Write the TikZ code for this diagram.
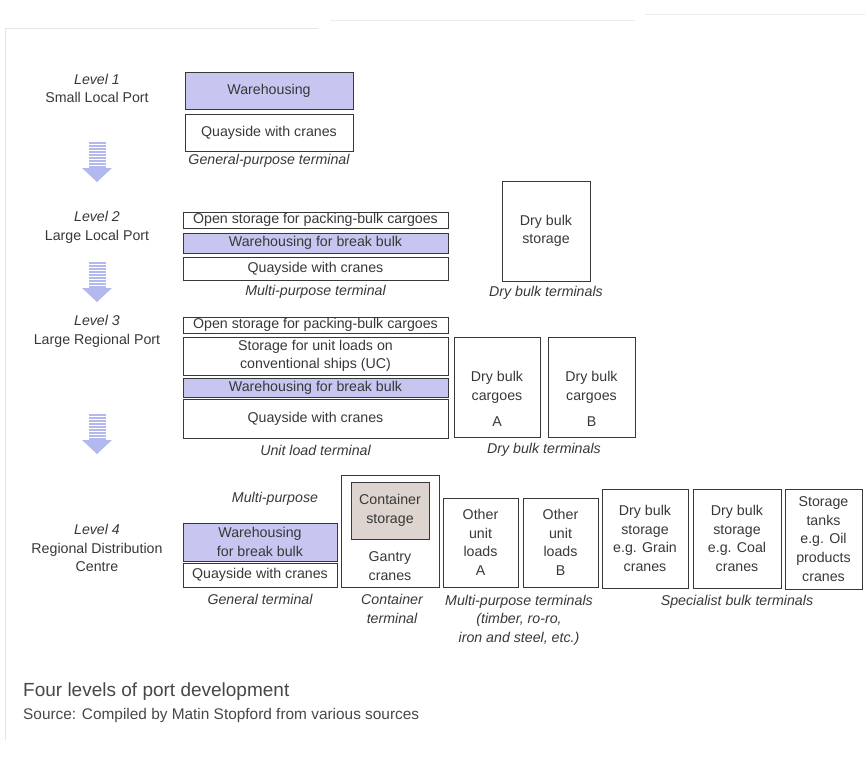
\documentclass[tikz,border=0pt]{standalone}
\usepackage{fontspec}
\setmainfont{Liberation Sans}

\definecolor{wareblue}{HTML}{C6C6F0}
\definecolor{contgray}{HTML}{DDD3CF}
\definecolor{inkgray}{HTML}{383838}
\definecolor{arrowblue}{HTML}{B3B8EE}

\newcommand\boxfont{\fontsize{14.2}{18.6}\selectfont}

\tikzset{
  box/.style={draw=inkgray, line width=1pt, inner sep=0pt, text=inkgray, font=\boxfont, align=center},
  warebox/.style={box, fill=wareblue},
  lbl/.style={text=inkgray, font=\boxfont, align=center, inner sep=0pt},
  term/.style={lbl, font=\boxfont\itshape},
}

\begin{document}
\begin{tikzpicture}[x=1pt, y=-1pt]

\useasboundingbox (0,0) rectangle (865,758);

% Faint scan frame
\draw[black!10, thin] (5,740) -- (5,28) -- (318,28);
\draw[black!8, thin] (330,20) -- (635,20);
\draw[black!8, thin] (645,14) -- (865,14);

% Level labels
\node[lbl] (lv1) at (97,88.5) {{\itshape Level 1}\\Small Local Port};
\node[lbl] (lv2) at (97,227.5) {{\itshape Level 2}\\Large Local Port};
\node[lbl] (lv3) at (97,331.5) {{\itshape Level 3}\\Large Regional Port};
\node[lbl] (lv4) at (97,548) {{\itshape Level 4}\\Regional Distribution\\Centre};

% Down arrows between levels (striped stem, solid head)
\foreach \ay in {142,262,414} {
  \fill[arrowblue] (89,\ay) rectangle (106,\ay+27);
  \foreach \s in {2,5,...,26}
    \draw[white, line width=0.8pt] (89,\ay+\s) -- (106,\ay+\s);
  \fill[arrowblue] (82,\ay+26) -- (112,\ay+26) -- (97,\ay+40) -- cycle;
}

% Level 1: general-purpose terminal
\node[warebox, minimum width=168, minimum height=37] (ware1) at (269,90.5) {Warehousing};
\node[box, minimum width=168, minimum height=37] (quay1) at (269,132.5) {Quayside with cranes};
\node[term] (gp1) at (269,161) {General-purpose terminal};

% Level 2: multi-purpose terminal
\node[box, minimum width=265, minimum height=16] (open2) at (315.5,220) {Open storage for packing-bulk cargoes};
\node[warebox, minimum width=265, minimum height=20] (ware2) at (315.5,243) {Warehousing for break bulk};
\node[box, minimum width=265, minimum height=23] (quay2) at (315.5,268.5) {Quayside with cranes};
\node[term] (mp2) at (315.5,292) {Multi-purpose terminal};

% Level 2: dry bulk terminal
\node[box, minimum width=88, minimum height=100] (dry2) at (546,231) {Dry bulk\\storage};
\node[term] (dt2) at (546,293) {Dry bulk terminals};

% Level 3: unit load terminal
\node[box, minimum width=265, minimum height=16] (open3) at (315.5,325) {Open storage for packing-bulk cargoes};
\node[box, minimum width=265, minimum height=38] (unit3) at (315.5,356) {Storage for unit loads on\\conventional ships (UC)};
\node[warebox, minimum width=265, minimum height=19] (ware3) at (315.5,387.5) {Warehousing for break bulk};
\node[box, minimum width=265, minimum height=39] (quay3) at (315.5,418.5) {Quayside with cranes};
\node[term] (ul3) at (315.5,450) {Unit load terminal};

% Level 3: dry bulk terminals
\node[box, minimum width=86, minimum height=100] (dbA) at (497,387) {};
\node[lbl] (dbAtxt) at ([yshift=-12pt]dbA.center) {Dry bulk\\cargoes\\[8pt]A};
\node[box, minimum width=87, minimum height=100] (dbB) at (591.5,387) {};
\node[lbl] (dbBtxt) at ([yshift=-12pt]dbB.center) {Dry bulk\\cargoes\\[8pt]B};
\node[term] (dt3) at (544,450) {Dry bulk terminals};

% Level 4: general terminal
\node[term] (mp4) at (275,499) {Multi-purpose};
\node[warebox, minimum width=154, minimum height=38] (ware4) at (260,542) {Warehousing\\for break bulk};
\node[box, minimum width=154, minimum height=24] (quay4) at (260,575) {Quayside with cranes};
\node[term] (gt4) at (260,599) {General terminal};

% Level 4: container terminal
\node[box, minimum width=98, minimum height=112] (cont4) at (390,531) {};
\node[box, fill=contgray, minimum width=78, minimum height=57] (cstore) at (390,510.5) {Container\\storage};
\node[lbl] (gantry) at (390,566) {Gantry\\cranes};
\node[term] (ct4) at (392,609) {Container\\terminal};

% Level 4: multi-purpose terminals
\node[box, minimum width=75, minimum height=89] (ulA) at (480.5,542.5) {Other\\unit\\loads\\A};
\node[box, minimum width=75, minimum height=89] (ulB) at (560.5,542.5) {Other\\unit\\loads\\B};
\node[term] (mpt4) at (519,620) {Multi-purpose terminals\\(timber, ro-ro,\\iron and steel, etc.)};

% Level 4: specialist bulk terminals
\node[box, minimum width=86, minimum height=99] (grain) at (645,538.5) {Dry bulk\\storage\\e.g. Grain\\cranes};
\node[box, minimum width=88, minimum height=99] (coal) at (737,538.5) {Dry bulk\\storage\\e.g. Coal\\cranes};
\node[box, minimum width=77, minimum height=100] (tanks) at (823.5,539) {Storage\\tanks\\e.g. Oil\\products\\cranes};
\node[term] (sb4) at (737,602) {Specialist bulk terminals};

% Caption
\node[anchor=west, inner sep=0pt, text=black!72, font=\fontsize{19}{22}\selectfont] (title) at (23,692) {Four levels of port development};
\node[anchor=west, inner sep=0pt, text=black!72, font=\fontsize{15.4}{18}\selectfont] (source) at (23,716) {Source: Compiled by Matin Stopford from various sources};

\end{tikzpicture}
\end{document}
